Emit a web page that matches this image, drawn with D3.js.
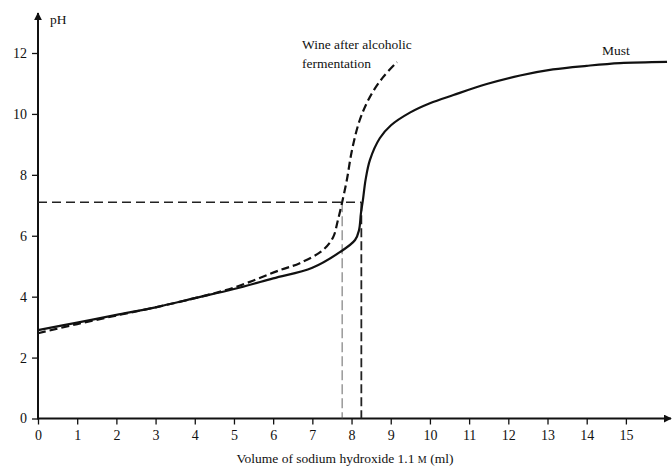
<!DOCTYPE html>
<html>
<head>
<meta charset="utf-8">
<script src="https://cdn.jsdelivr.net/npm/d3@7"></script>
<style>
body { margin:0; background:#fff; }
</style>
</head>
<body>
<svg id="chart" width="672" height="470"></svg>
<script>
// titration curves
var mustVol = [0, 1, 2, 3, 4, 5, 6, 7, 7.7, 8.09, 8.19, 8.24, 8.29, 8.36, 8.47, 8.72, 9.0, 9.5, 10.0, 10.6, 11.45, 12.3, 13.14, 14.0, 14.85, 16.05];
var mustPH  = [2.9, 3.15, 3.4, 3.65, 3.95, 4.25, 4.6, 4.95, 5.46, 5.86, 6.18, 6.74, 7.17, 7.85, 8.49, 9.2, 9.62, 10.05, 10.35, 10.62, 10.98, 11.26, 11.46, 11.58, 11.67, 11.71];

var wineVol = [0, 1, 2, 3, 4, 5, 6.17, 6.68, 7.27, 7.53, 7.65, 7.76, 7.88, 8.01, 8.21, 8.47, 8.8, 9.16];
var winePH  = [2.8, 3.1, 3.38, 3.65, 3.95, 4.3, 4.87, 5.1, 5.53, 5.95, 6.5, 7.1, 7.83, 8.8, 9.8, 10.56, 11.2, 11.7];

var xTicks = [0,1,2,3,4,5,6,7,8,9,10,11,12,13,14,15];
var yTicks = [0,2,4,6,8,10,12];

var refPH = 7.1;          // neutral point used on the chart
var wineEnd = 7.76;       // volume where wine reaches 7.1
var mustEnd = 8.25;       // volume where must reaches 7.1

var serif = '"Liberation Serif", "DejaVu Serif", serif';

var svg = d3.select("#chart");
var x = d3.scaleLinear().domain([0, 16.1]).range([38, 669]);
var y = d3.scaleLinear().domain([0, 12]).range([418.5, 53]);

var defs = svg.append("defs");
defs.append("marker").attr("id","arr").attr("viewBox","0 0 10 10")
    .attr("refX",9).attr("refY",5).attr("markerWidth",4).attr("markerHeight",4)
    .attr("orient","auto").attr("markerUnits","strokeWidth")
    .append("path").attr("d","M0,0L10,5L0,10z").attr("fill","#111");

// axes
var gx = svg.append("g").attr("transform","translate(0,"+y(0)+")")
    .call(d3.axisBottom(x).tickValues(xTicks).tickSize(6).tickPadding(6).tickFormat(d3.format("d")));
var gy = svg.append("g").attr("transform","translate("+x(0)+",0)")
    .call(d3.axisLeft(y).tickValues(yTicks).tickSize(6).tickPadding(5).tickFormat(d3.format("d")));
[gx, gy].forEach(function(g){
    g.attr("font-family", serif);
    g.select(".domain").remove();
    g.selectAll(".tick line").attr("stroke","#111").attr("stroke-width",1.3);
    g.selectAll(".tick text").style("font-family", serif).style("font-size","14px").attr("fill","#111");
});

svg.append("line").attr("x1",x(0)).attr("x2",671).attr("y1",y(0)).attr("y2",y(0))
    .attr("stroke","#111").attr("stroke-width",2).attr("marker-end","url(#arr)");
svg.append("line").attr("x1",x(0)).attr("x2",x(0)).attr("y1",y(0)+1).attr("y2",13)
    .attr("stroke","#111").attr("stroke-width",2).attr("marker-end","url(#arr)");

// reference lines
svg.append("line").attr("x1",x(0)).attr("x2",x(mustEnd)).attr("y1",y(refPH)).attr("y2",y(refPH))
    .attr("stroke","#222").attr("stroke-width",1.6).attr("stroke-dasharray","9,5");
svg.append("line").attr("x1",x(wineEnd)).attr("x2",x(wineEnd)).attr("y1",y(refPH)).attr("y2",y(0))
    .attr("stroke","#555").attr("stroke-width",0.9).attr("stroke-dasharray","10,4");
svg.append("line").attr("x1",x(mustEnd)).attr("x2",x(mustEnd)).attr("y1",y(refPH)).attr("y2",y(0))
    .attr("stroke","#222").attr("stroke-width",1.8).attr("stroke-dasharray","9,4");

// curves
var line = d3.line().curve(d3.curveCatmullRom.alpha(0.5))
    .x(function(d){ return x(d[0]); }).y(function(d){ return y(d[1]); });

svg.append("path").datum(d3.zip(mustVol, mustPH)).attr("d", line)
    .attr("fill","none").attr("stroke","#111").attr("stroke-width",2.2);
svg.append("path").datum(d3.zip(wineVol, winePH)).attr("d", line)
    .attr("fill","none").attr("stroke","#111").attr("stroke-width",2.2).attr("stroke-dasharray","8,4");

// labels
function label(tx, ty, s) {
    return svg.append("text").attr("x",tx).attr("y",ty)
        .style("font-family", serif).style("font-size","13.5px").attr("fill","#111").text(s);
}
label(50, 24, "pH");
label(302, 49, "Wine after alcoholic");
label(302, 68, "fermentation");
label(602, 55, "Must");

var xt = svg.append("text").attr("x",345).attr("y",463).attr("text-anchor","middle")
    .style("font-family", serif).style("font-size","13.5px").attr("fill","#111");
xt.append("tspan").text("Volume of sodium hydroxide 1.1 ");
xt.append("tspan").style("font-size","10px").text("M");
xt.append("tspan").text(" (ml)");
</script>
</body>
</html>
